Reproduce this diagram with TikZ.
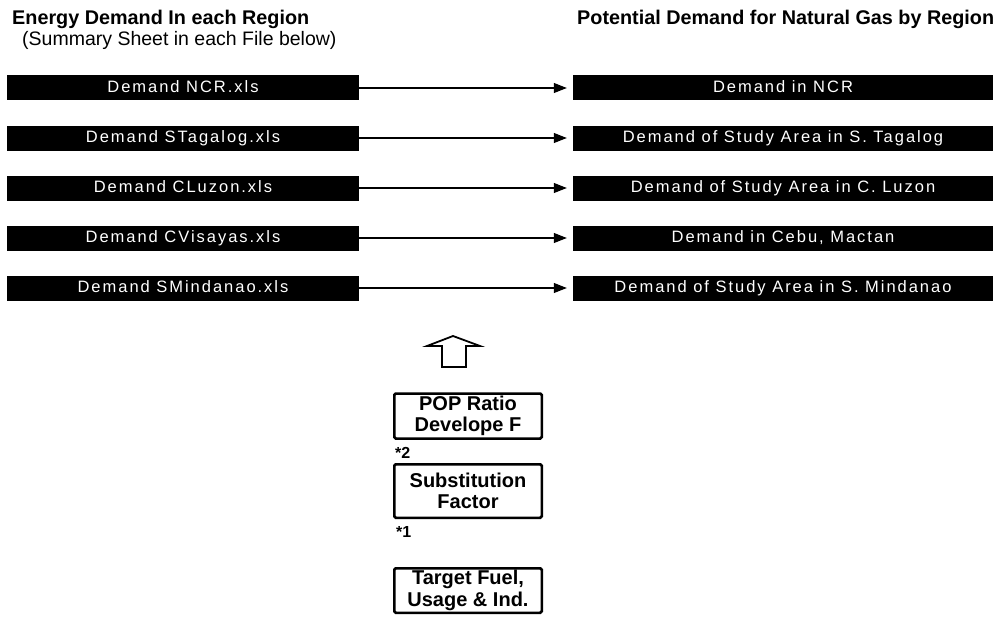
\documentclass[tikz,border=0pt]{standalone}
\usepackage{fontspec}
\setmainfont{Liberation Sans}
\newfontfamily\cellfont[LetterSpace=12]{Liberation Sans}
\usetikzlibrary{arrows.meta}

\tikzset{
  filebox/.style={fill=black, text=white, minimum width=352pt, minimum height=25pt,
    inner sep=0pt, text height=11.5pt, text depth=2.5pt,
    font=\cellfont\fontsize{16.5}{18}\selectfont},
  gasbox/.style={filebox, minimum width=420pt},
  flow/.style={line width=1.1pt, -{Triangle[length=13pt,width=10pt]}, shorten >=6pt},
  factor/.style={draw, line width=2.5pt, rounded corners=1.5pt, fill=white,
    minimum width=147.5pt, inner sep=0pt, align=center,
    font=\bfseries\fontsize{20}{21.5}\selectfont},
  heading/.style={anchor=base west, inner sep=0pt, font=\bfseries\fontsize{19.8}{22}\selectfont},
  subheading/.style={anchor=base west, inner sep=0pt, font=\fontsize{19.5}{22}\selectfont},
  note/.style={anchor=base west, inner sep=0pt, font=\bfseries\fontsize{16}{18}\selectfont},
}

\begin{document}
\begin{tikzpicture}[x=1pt,y=-1pt]
  \useasboundingbox (0,0) rectangle (1002,618);

  % column headings
  \node[heading] (hl) at (12,25) {Energy Demand In each Region};
  \node[subheading] (hs) at (22,46) {(Summary Sheet in each File below)};
  \node[heading] (hr) at (577,25) {Potential Demand for Natural Gas by Region};

  % regional files and the corresponding gas demand sheets
  \node[filebox] (f1) at (183,88) {Demand NCR.xls};
  \node[filebox] (f2) at (183,138) {Demand STagalog.xls};
  \node[filebox] (f3) at (183,188) {Demand CLuzon.xls};
  \node[filebox] (f4) at (183,238) {Demand CVisayas.xls};
  \node[filebox] (f5) at (183,288) {Demand SMindanao.xls};

  \node[gasbox] (g1) at (783,88) {Demand in NCR};
  \node[gasbox] (g2) at (783,138) {Demand of Study Area in S. Tagalog};
  \node[gasbox] (g3) at (783,188) {Demand of Study Area in C. Luzon};
  \node[gasbox] (g4) at (783,238) {Demand in Cebu, Mactan};
  \node[gasbox] (g5) at (783,288) {Demand of Study Area in S. Mindanao};

  \foreach \i in {1,...,5}
    \draw[flow] (f\i.east) -- (g\i.west);

  % hollow block arrow feeding the factors upward
  \draw[line width=1.8pt, fill=white, line join=miter]
    (442,367) -- (442,346) -- (427,346) -- (453,336) -- (480,346)
    -- (466,346) -- (466,367) -- cycle;

  % factor boxes
  \node[factor, minimum height=45pt] (pop) at (468,416) {POP Ratio\\Develope F};
  \node[note] (n2) at (395,458) {*2};
  \node[factor, minimum height=53.5pt] (sub) at (468,491) {Substitution\\Factor};
  \node[note] (n1) at (396,537) {*1};
  \node[factor, minimum height=44.5pt] (tgt) at (468,590.5) {Target Fuel,\\Usage \& Ind.};
\end{tikzpicture}
\end{document}
